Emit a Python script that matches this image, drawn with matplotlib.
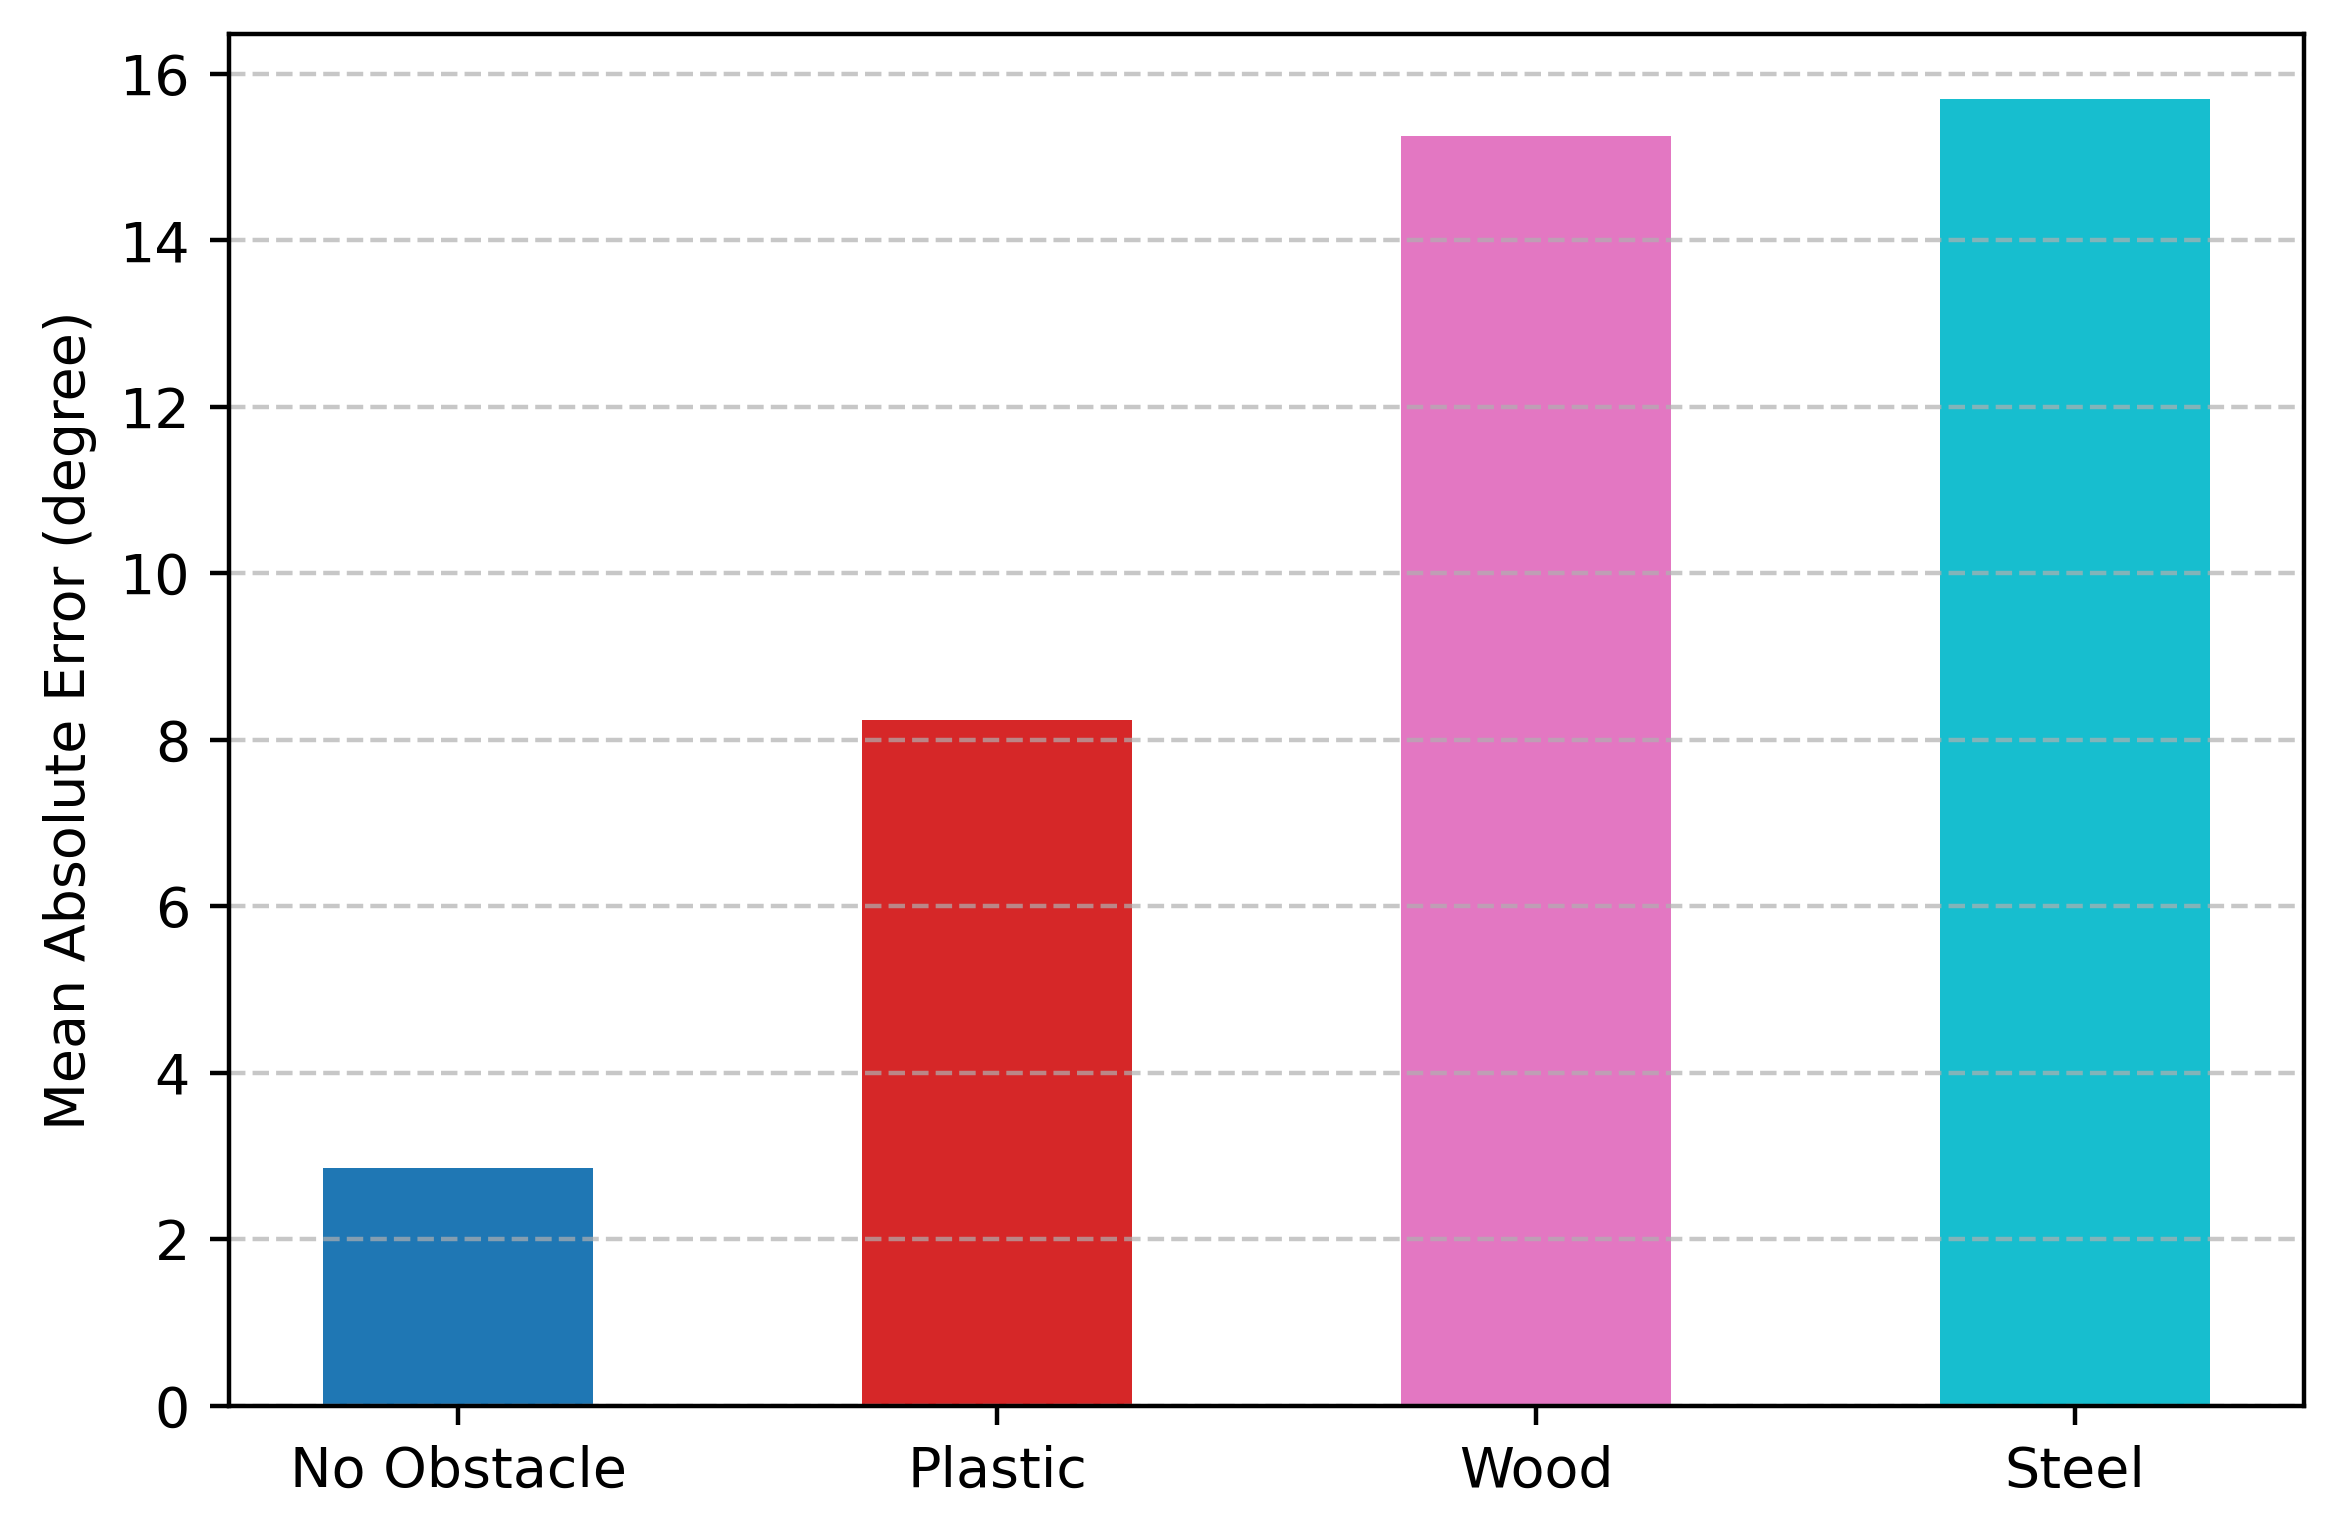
import matplotlib
matplotlib.use("Agg")
import matplotlib.pyplot as plt

categories = ["No Obstacle", "Plastic", "Wood", "Steel"]
mae_deg = [2.86, 8.24, 15.25, 15.69]
colors = ["tab:blue", "tab:red", "tab:pink", "tab:cyan"]

fig, ax = plt.subplots(figsize=(2337 / 400, 1521 / 400), dpi=400)
ax.bar(categories, mae_deg, width=0.5, color=colors)
ax.set_ylabel("Mean Absolute Error (degree)")
ax.grid(axis="y", linestyle="--", alpha=0.7)
plt.subplots_adjust(left=229 / 2337, right=2304 / 2337,
                    top=1 - 34 / 1521, bottom=1 - 1406 / 1521)
plt.savefig("out.png", dpi=400)
